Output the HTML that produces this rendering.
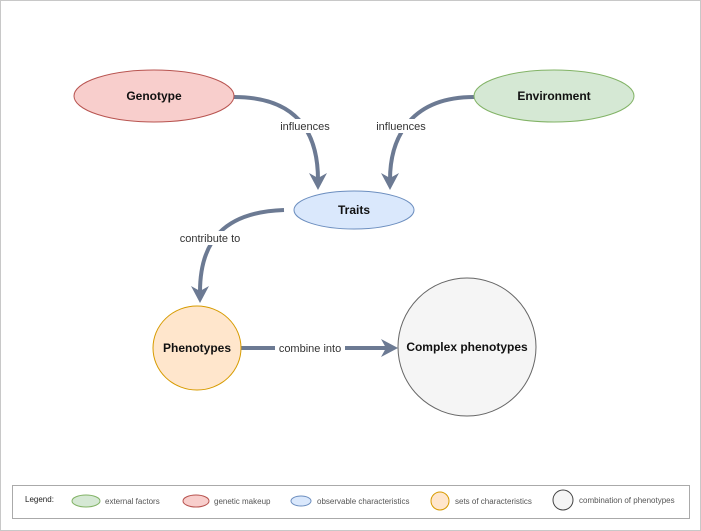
<!DOCTYPE html>
<html><head><meta charset="utf-8"><style>
html,body{margin:0;padding:0;background:#fff}
svg{display:block;font-family:"Liberation Sans",Arial,sans-serif}
</style></head><body>
<svg width="701" height="531" viewBox="0 0 701 531" xmlns="http://www.w3.org/2000/svg">
<rect x="0.5" y="0.5" width="700" height="530" fill="#fff" stroke="#c8c8c8"/>
<g fill="none" stroke="#6c7a93" stroke-width="4">
<path d="M234,97 C295,97 318,130 318,180"/>
<path d="M474,97 C413,97 390,135 390,180"/>
<path d="M284,210 C225,212 200,240 200,292"/>
<path d="M241,348 L387,348"/>
</g>
<g fill="#6c7a93">
<polygon points="318,190 309,173 318,178 327,173"/>
<polygon points="390,190 381,173 390,178 399,173"/>
<polygon points="200,303 191,286 200,291 209,286"/>
<polygon points="398,348 381,339 386,348 381,357"/>
</g>
<g font-size="11" fill="#333" text-anchor="middle">
<rect x="278" y="119" width="54" height="14" fill="#fff"/><text x="305" y="130">influences</text>
<rect x="374" y="119" width="54" height="14" fill="#fff"/><text x="401" y="130">influences</text>
<rect x="177" y="231" width="66" height="14" fill="#fff"/><text x="210" y="242">contribute to</text>
<rect x="275" y="341" width="70" height="14" fill="#fff"/><text x="310" y="352">combine into</text>
</g>
<ellipse cx="154" cy="96" rx="80" ry="26" fill="#f8cecc" stroke="#b85450"/>
<ellipse cx="554" cy="96" rx="80" ry="26" fill="#d5e8d4" stroke="#82b366"/>
<ellipse cx="354" cy="210" rx="60" ry="19" fill="#dae8fc" stroke="#6c8ebf"/>
<ellipse cx="197" cy="348" rx="44" ry="42" fill="#ffe6cc" stroke="#d79b00"/>
<circle cx="467" cy="347" r="69" fill="#f5f5f5" stroke="#666"/>
<g font-size="12" font-weight="bold" fill="#111" text-anchor="middle">
<text x="154" y="100">Genotype</text>
<text x="554" y="100">Environment</text>
<text x="354" y="214">Traits</text>
<text x="197" y="352">Phenotypes</text>
<text x="467" y="351">Complex phenotypes</text>
</g>
<rect x="12.5" y="485.5" width="677" height="33" fill="#fff" stroke="#aaa"/>
<g font-size="8" fill="#555">
<text x="25" y="502" fill="#222">Legend:</text>
<ellipse cx="86" cy="501" rx="14" ry="6" fill="#d5e8d4" stroke="#82b366"/>
<text x="105" y="504">external factors</text>
<ellipse cx="196" cy="501" rx="13" ry="6" fill="#f8cecc" stroke="#b85450"/>
<text x="214" y="504">genetic makeup</text>
<ellipse cx="301" cy="501" rx="10" ry="5" fill="#dae8fc" stroke="#6c8ebf"/>
<text x="317" y="504">observable characteristics</text>
<ellipse cx="440" cy="501" rx="9" ry="9" fill="#ffe6cc" stroke="#d79b00"/>
<text x="455" y="504">sets of characteristics</text>
<circle cx="563" cy="500" r="10" fill="#f5f5f5" stroke="#444"/>
<text x="579" y="503">combination of phenotypes</text>
</g>
</svg>
</body></html>
